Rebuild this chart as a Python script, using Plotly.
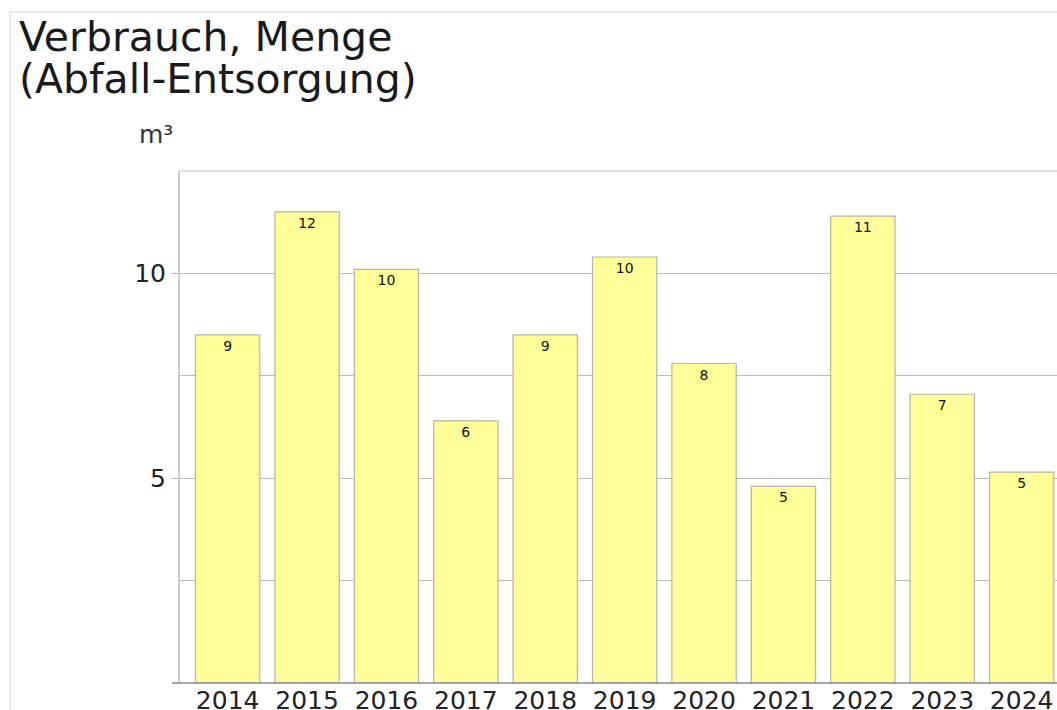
import plotly.graph_objects as go

years = ["2014", "2015", "2016", "2017", "2018", "2019", "2020", "2021", "2022", "2023", "2024"]
values = [8.5, 11.5, 10.1, 6.4, 8.5, 10.4, 7.8, 4.8, 11.4, 7.05, 5.15]
labels = ["9", "12", "10", "6", "9", "10", "8", "5", "11", "7", "5"]
y_tickvals = [5, 10]
y_ticktext = ["5", "10"]
title_lines = ["Verbrauch, Menge", "(Abfall-Entsorgung)"]
unit = "m³"

OFF = 0  # body margin removed via post_script
W, H = 1057, 710
L, R, T, B = 180, 0, 171, 27
PW, PH = W - L - R, H - T - B

def px(x):
    return (x - OFF - L) / PW

def py(y):
    return (H - B - (y - OFF)) / PH

FONT = "DejaVu Sans"

fig = go.Figure()
fig.add_trace(go.Bar(
    x=list(range(len(years))),
    y=values,
    text=labels,
    textposition="inside",
    insidetextanchor="end",
    textangle=0,
    textfont=dict(family=FONT, size=14, color="#111111"),
    marker=dict(color="#FFFF99", line=dict(color="#B4B4AC", width=1.2)),
    width=0.81,
    hoverinfo="skip",
))

fig.update_layout(
    width=W, height=H,
    margin=dict(l=L, r=R, t=T, b=B, autoexpand=False),
    plot_bgcolor="white", paper_bgcolor="white",
    showlegend=False,
    font=dict(family=FONT, color="#222222"),
    xaxis=dict(
        range=[-0.6, 10.445],
        tickmode="array",
        tickvals=list(range(len(years))),
        ticktext=years,
        tickfont=dict(family=FONT, size=25, color="#222222"),
        showgrid=False, zeroline=False, showline=False,
        ticks="", ticklen=0,
        fixedrange=True,
    ),
    yaxis=dict(
        range=[0, 12.5],
        tickmode="array",
        tickvals=y_tickvals,
        ticktext=y_ticktext,
        tickfont=dict(family=FONT, size=25, color="#222222"),
        showgrid=True, gridcolor="#BBBBBB", gridwidth=1,
        minor=dict(tick0=0, dtick=2.5, showgrid=True, gridcolor="#BBBBBB", gridwidth=1, ticks=""),
        ticks="outside", ticklen=7, tickcolor="#BBBBBB",
        showline=True, linecolor="#CCCCCC", linewidth=2,
        zeroline=False,
        fixedrange=True,
    ),
)

shapes = [
    # outer frame
    dict(type="line", xref="paper", yref="paper", x0=px(10), x1=px(1057), y0=py(12), y1=py(12),
         line=dict(color="#E2E2E2", width=1.5)),
    dict(type="line", xref="paper", yref="paper", x0=px(10), x1=px(10), y0=py(12), y1=py(710),
         line=dict(color="#E2E2E2", width=1.5)),
    # top grid line
    dict(type="line", xref="paper", yref="paper", x0=0, x1=1, y0=1, y1=1,
         line=dict(color="#BBBBBB", width=1)),
    # x axis baseline
    dict(type="line", xref="paper", yref="paper", x0=px(172), x1=1, y0=0, y1=0,
         line=dict(color="#888888", width=1.5)),
]
fig.update_layout(shapes=shapes)

fig.add_annotation(text=title_lines[0], xref="paper", yref="paper", x=px(17), y=py(11),
                   xanchor="left", yanchor="top", showarrow=False,
                   font=dict(family=FONT, size=41, color="#1a1a1a"))
fig.add_annotation(text=title_lines[1], xref="paper", yref="paper", x=px(17), y=py(53),
                   xanchor="left", yanchor="top", showarrow=False,
                   font=dict(family=FONT, size=41, color="#1a1a1a"))
fig.add_annotation(text=unit, xref="paper", yref="paper", x=px(156), y=py(134),
                   xanchor="center", yanchor="middle", showarrow=False,
                   font=dict(family=FONT, size=25, color="#333333"))

post = (
    "document.documentElement.style.margin='0';"
    "document.documentElement.style.overflow='hidden';"
    "document.body.style.margin='0';"
    "document.body.style.padding='0';"
    "document.body.style.overflow='hidden';"
)
fig.write_html("out.html", config={"displayModeBar": False}, post_script=post)
